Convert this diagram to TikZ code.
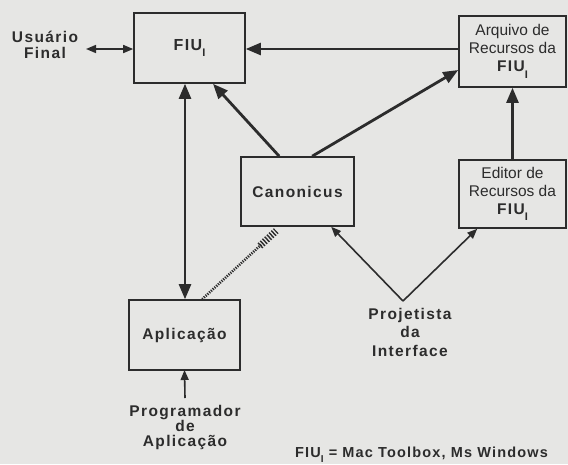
\documentclass[tikz,border=0pt]{standalone}
\usepackage{fontspec}
\setmainfont{Liberation Sans}
\newfontfamily\lblfont[LetterSpace=9]{Liberation Sans Bold}
\newfontfamily\notefont[LetterSpace=8]{Liberation Sans Bold}
\usetikzlibrary{arrows.meta,calc}
\definecolor{bgc}{HTML}{E6E6E4}
\definecolor{ink}{HTML}{2C2C2C}
\newcommand{\fiusub}{\raisebox{-0.8ex}{\fontsize{11}{11}\selectfont I}}
\begin{document}
\begin{tikzpicture}[x=1pt,y=-1pt,
  box/.style={draw=ink,line width=1.6pt,minimum width=#1,inner sep=0pt,align=center,text=ink},
  lbl/.style={text=ink,align=center,inner sep=0pt,font=\lblfont\fontsize{15.5}{16}\selectfont},
  bigtip/.tip={Triangle[length=15pt,width=12pt]},
  arr/.style={draw=ink,line width=2.4pt,-bigtip},
  darr/.style={draw=ink,line width=2.4pt,bigtip-bigtip},
  sarr/.style={draw=ink,line width=1.6pt,-{Triangle[length=10pt,width=8pt]}},
  uarr/.style={draw=ink,line width=1.6pt,{Triangle[length=10pt,width=8pt]}-{Triangle[length=10pt,width=8pt]}}
]
\fill[bgc] (0,0) rectangle (568,464);
\useasboundingbox (0,0) rectangle (568,464);

\node[box=111pt,minimum height=70pt,font=\lblfont\fontsize{16}{16}\selectfont] (fiu) at (189.5,48) {FIU\fiusub};
\node[box=107pt,minimum height=71pt,font=\fontsize{15.5}{18}\selectfont] (arq) at (512.5,51.5)
  {Arquivo de\\Recursos da\\{\lblfont FIU\fiusub}};
\node[box=107pt,minimum height=68pt,font=\fontsize{15.5}{18}\selectfont] (edi) at (512.5,194)
  {Editor de\\Recursos da\\{\lblfont FIU\fiusub}};
\node[box=113pt,minimum height=69pt,font=\lblfont\fontsize{15.5}{16}\selectfont] (can) at (297.5,191.5) {Canonicus};
\node[box=111pt,minimum height=70pt,font=\lblfont\fontsize{15.5}{16}\selectfont] (apl) at (184.5,335) {Aplicação};

\node[lbl] (usr) at (45,45) {Usuário\\Final};
\node[lbl,font=\lblfont\fontsize{15.5}{18.5}\selectfont] (proj) at (410,332) {Projetista\\da\\Interface};
\node[lbl,font=\lblfont\fontsize{15.5}{14.5}\selectfont] (prog) at (185,427) {Programador\\de\\Aplicação};
\node[text=ink,anchor=west,inner sep=0pt,font=\notefont\fontsize{14.5}{15}\selectfont] (note) at (295,455)
  {FIU\raisebox{-0.6ex}{\fontsize{10}{10}\selectfont I} = Mac Toolbox, Ms Windows};

\coordinate (ue) at (86,49);
\draw[uarr] (ue) -- (fiu.west |- ue);
\coordinate (ae) at (459,49);
\draw[arr] (ae) -- (fiu.east |- ae);
\draw[arr,line width=2.8pt] ([xshift=39pt]can.north west) -- ([xshift=23.5pt]fiu.south);
\draw[arr,line width=2.8pt] ([xshift=72pt]can.north west) -- ([yshift=-18.5pt]arq.west);
\draw[arr] (edi.north) -- (arq.south);
\draw[darr] ([xshift=-4.5pt]fiu.south) -- ([xshift=0.5pt]apl.north);

\coordinate (da) at ([xshift=74pt]apl.north west);
\coordinate (db) at ([xshift=36pt,yshift=-4pt]can.south west);
\draw[ink,line width=2.6pt,dash pattern=on 1.2pt off 1.2pt] (da) -- ($(da)!0.8!(db)$);
\draw[ink,line width=7pt,dash pattern=on 1.4pt off 1.6pt] ($(da)!0.78!(db)$) -- (db);

\coordinate (v) at (403,301);
\draw[sarr] (v) -- ([xshift=91pt]can.south west);
\draw[sarr] (v) -- ([xshift=19pt]edi.south west);
\coordinate (pt) at (185,398);
\draw[sarr] (pt) -- (apl.south |- 0,370);
\end{tikzpicture}
\end{document}
